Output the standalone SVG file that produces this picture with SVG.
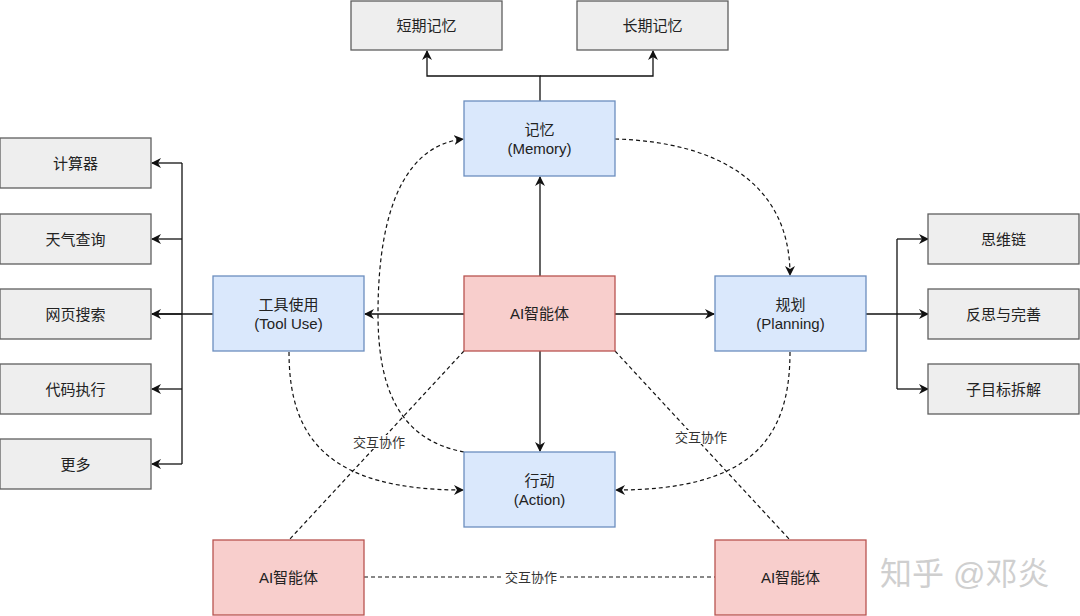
<svg xmlns="http://www.w3.org/2000/svg" width="1080" height="616" viewBox="0 0 1080 616">
<defs>
<style>
.g{fill:#eeeeee;stroke:#5f5f5f;stroke-width:1.3}
.b{fill:#dae8fc;stroke:#6c8ebf;stroke-width:1.3}
.r{fill:#f8cecc;stroke:#b85450;stroke-width:1.3}
text{font-family:"Liberation Sans","Noto Sans CJK SC",sans-serif;font-size:15px;fill:#222;text-anchor:middle;dominant-baseline:central}
.lbl{font-size:13px;fill:#333}
.s{fill:none;stroke:#111;stroke-width:1.3}
.d{fill:none;stroke:#111;stroke-width:1.2;stroke-dasharray:4 3}
.bg{fill:#fff}
.wm{font-size:32px;fill:#cfcfcf;text-anchor:start}
</style>
<marker id="a" viewBox="0 0 10 10" refX="9" refY="5" markerWidth="10" markerHeight="10" markerUnits="userSpaceOnUse" orient="auto">
<path d="M0,0 L10,5 L0,10 L3,5 Z" fill="#111"/>
</marker>
</defs>

<g id="connectors">
<path class="s" d="M540,101 V76 H427 V51" marker-end="url(#a)"/>
<path class="s" d="M540,76 H653 V51" marker-end="url(#a)"/>
<path class="s" d="M213,314 H152"/>
<path class="s" d="M182,163 V464"/>
<path class="s" d="M182,163 H152" marker-end="url(#a)"/>
<path class="s" d="M182,239 H152" marker-end="url(#a)"/>
<path class="s" d="M182,314 H152" marker-end="url(#a)"/>
<path class="s" d="M182,389 H152" marker-end="url(#a)"/>
<path class="s" d="M182,464 H152" marker-end="url(#a)"/>
<path class="s" d="M866,314 H928" marker-end="url(#a)"/>
<path class="s" d="M897,239 V389"/>
<path class="s" d="M897,239 H928" marker-end="url(#a)"/>
<path class="s" d="M897,389 H928" marker-end="url(#a)"/>
<path class="s" d="M540,276 V177" marker-end="url(#a)"/>
<path class="s" d="M464,314 H365" marker-end="url(#a)"/>
<path class="s" d="M615,314 H714" marker-end="url(#a)"/>
<path class="s" d="M540,351 V451" marker-end="url(#a)"/>
<path class="d" d="M464,452 C400,440 378,390 378,314 C378,200 410,145 463,139" marker-end="url(#a)"/>
<path class="d" d="M615,139 C720,142 790,185 790,275" marker-end="url(#a)"/>
<path class="d" d="M289,352 C289,440 330,490 463,490" marker-end="url(#a)"/>
<path class="d" d="M790,352 C790,440 750,490 616,490" marker-end="url(#a)"/>
<path class="d" d="M464,351 L289,540"/>
<path class="d" d="M615,351 L790,540"/>
<path class="d" d="M364,577 H715"/>
<rect class="bg" x="353" y="435" width="52" height="14"/>
<text class="lbl" x="379" y="442">交互协作</text>
<rect class="bg" x="675" y="430" width="52" height="14"/>
<text class="lbl" x="701" y="437">交互协作</text>
<rect class="bg" x="504" y="569" width="54" height="16"/>
<text class="lbl" x="531" y="577">交互协作</text>
</g>

<g id="short-memory"><rect class="g" x="351" y="1" width="151" height="49"/><text x="426.5" y="25.5">短期记忆</text></g>
<g id="long-memory"><rect class="g" x="577" y="1" width="151" height="49"/><text x="652.5" y="25.5">长期记忆</text></g>
<g id="memory"><rect class="b" x="464" y="101" width="151" height="75"/><text x="539.5" y="129">记忆</text><text x="539.5" y="148">(Memory)</text></g>
<g id="calculator"><rect class="g" x="0" y="138" width="151" height="50"/><text x="75.5" y="163">计算器</text></g>
<g id="weather"><rect class="g" x="0" y="214" width="151" height="50"/><text x="75.5" y="239">天气查询</text></g>
<g id="websearch"><rect class="g" x="0" y="289" width="151" height="50"/><text x="75.5" y="314">网页搜索</text></g>
<g id="code"><rect class="g" x="0" y="364" width="151" height="50"/><text x="75.5" y="389">代码执行</text></g>
<g id="more"><rect class="g" x="0" y="439" width="151" height="50"/><text x="75.5" y="464">更多</text></g>
<g id="tooluse"><rect class="b" x="213" y="276" width="151" height="75"/><text x="288.5" y="304">工具使用</text><text x="288.5" y="323">(Tool Use)</text></g>
<g id="agent"><rect class="r" x="464" y="276" width="151" height="75"/><text x="539.5" y="313.5">AI智能体</text></g>
<g id="planning"><rect class="b" x="715" y="276" width="151" height="75"/><text x="790.5" y="304">规划</text><text x="790.5" y="323">(Planning)</text></g>
<g id="cot"><rect class="g" x="928" y="214" width="151" height="50"/><text x="1003.5" y="239">思维链</text></g>
<g id="reflect"><rect class="g" x="928" y="289" width="151" height="50"/><text x="1003.5" y="314">反思与完善</text></g>
<g id="subgoal"><rect class="g" x="928" y="364" width="151" height="50"/><text x="1003.5" y="389">子目标拆解</text></g>
<g id="action"><rect class="b" x="464" y="452" width="151" height="75"/><text x="539.5" y="480">行动</text><text x="539.5" y="499">(Action)</text></g>
<g id="agent-left"><rect class="r" x="213" y="540" width="151" height="75"/><text x="288.5" y="577">AI智能体</text></g>
<g id="agent-right"><rect class="r" x="715" y="540" width="151" height="75"/><text x="790.5" y="577">AI智能体</text></g>
<text class="wm" x="880" y="574">知乎 @邓炎</text>
</svg>
